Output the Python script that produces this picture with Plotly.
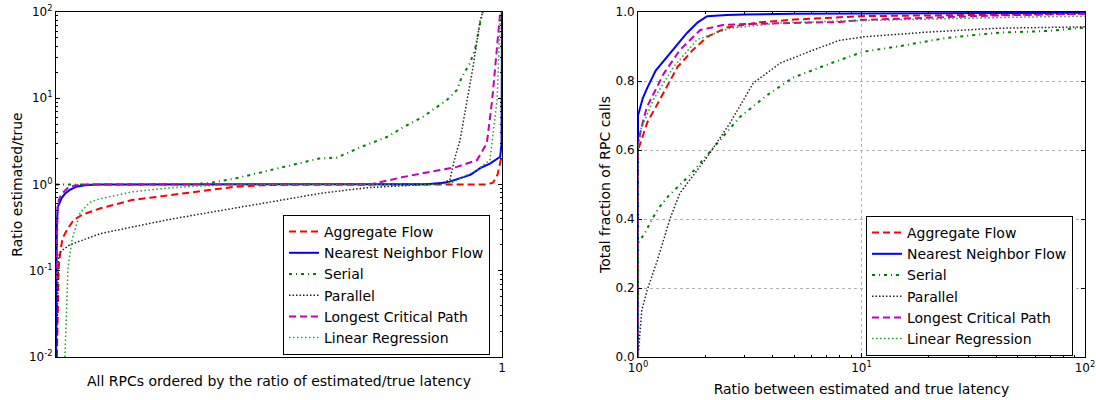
import plotly.graph_objects as go

# ---------------- Left panel: ratio estimated/true, RPCs ordered ----------------
agg_l_x = [0.002, 0.004, 0.006, 0.01, 0.015, 0.025, 0.04, 0.06, 0.1, 0.17, 0.25, 0.32, 0.4, 0.46, 0.55, 0.75, 0.9, 0.965, 0.98, 0.99, 0.996, 1.0]
agg_l_y = [0.01, 0.04, 0.11, 0.17, 0.24, 0.3, 0.39, 0.45, 0.53, 0.66, 0.75, 0.83, 0.94, 0.98, 1.0, 1.0, 1.0, 1.0, 1.05, 1.3, 1.8, 2.2]

nn_l_x = [0.0, 0.002, 0.004, 0.008, 0.013, 0.02, 0.03, 0.045, 0.065, 0.09, 0.3, 0.6, 0.8, 0.83, 0.87, 0.883, 0.93, 0.951, 0.973, 0.987, 0.996, 0.999, 1.0]
nn_l_y = [0.01, 0.35, 0.55, 0.62, 0.7, 0.78, 0.86, 0.94, 0.98, 1.0, 1.0, 1.0, 1.0, 1.01, 1.05, 1.08, 1.3, 1.55, 1.75, 1.95, 2.1, 3.0, 100]

ser_l_x = [0.0, 0.2, 0.3, 0.345, 0.41, 0.5, 0.56, 0.59, 0.63, 0.682, 0.742, 0.778, 0.823, 0.877, 0.899, 0.91, 0.928, 0.939, 0.951, 0.957]
ser_l_y = [1.0, 1.0, 1.0, 1.04, 1.2, 1.55, 1.85, 2.0, 2.05, 2.7, 3.55, 4.6, 6.1, 9.6, 12.5, 17.7, 25.5, 36, 74, 100]

par_l_x = [0.001, 0.003, 0.006, 0.012, 0.031, 0.1, 0.18, 0.25, 0.35, 0.5, 0.6, 0.7, 0.8, 0.86, 0.883, 0.895, 0.906, 0.922, 0.935, 0.951, 0.957]
par_l_y = [0.01, 0.05, 0.15, 0.17, 0.2, 0.27, 0.33, 0.39, 0.48, 0.66, 0.8, 0.92, 0.98, 1.02, 1.13, 2.1, 3.3, 9.6, 23, 80, 100]

lcp_l_x = [0.0, 0.002, 0.004, 0.008, 0.015, 0.025, 0.04, 0.06, 0.3, 0.704, 0.778, 0.839, 0.899, 0.944, 0.966, 0.978, 0.989, 0.996]
lcp_l_y = [0.08, 0.4, 0.6, 0.7, 0.8, 0.9, 0.97, 1.0, 1.0, 1.0, 1.22, 1.4, 1.6, 1.92, 3.0, 9.6, 37, 100]

lr_l_x = [0.02, 0.027, 0.036, 0.054, 0.076, 0.092, 0.17, 0.25, 0.32, 0.39, 0.6, 0.861, 0.89, 0.944, 0.973, 0.989, 0.996, 0.998]
lr_l_y = [0.01, 0.11, 0.23, 0.47, 0.62, 0.67, 0.82, 0.91, 0.96, 0.99, 1.0, 1.0, 1.07, 1.47, 1.92, 9.6, 88, 100]

# ---------------- Right panel: CDF of ratio ----------------
agg_r_x = [1, 1, 1.05, 1.1, 1.25, 1.5, 1.76, 2.04, 2.5, 3.5, 5, 10, 20, 50, 100]
agg_r_y = [0, 0.6, 0.64, 0.68, 0.745, 0.84, 0.89, 0.928, 0.955, 0.97, 0.978, 0.988, 0.99, 0.993, 0.995]

nn_r_x = [1, 1, 1.05, 1.1, 1.2, 1.35, 1.5, 1.66, 1.85, 2.04, 2.5, 3, 5, 10, 30, 100]
nn_r_y = [0, 0.7, 0.75, 0.78, 0.83, 0.87, 0.905, 0.94, 0.97, 0.988, 0.991, 0.993, 0.995, 0.996, 0.997, 0.998]

ser_r_x = [1, 1, 1.075, 1.155, 1.25, 1.36, 1.71, 2.04, 2.86, 3.8, 4.95, 7.4, 10.2, 14.5, 24, 41, 68, 100]
ser_r_y = [0, 0.33, 0.36, 0.40, 0.435, 0.465, 0.528, 0.585, 0.696, 0.76, 0.81, 0.853, 0.885, 0.90, 0.925, 0.94, 0.945, 0.955]

par_r_x = [1, 1.04, 1.1, 1.22, 1.39, 1.54, 2.04, 2.58, 3.28, 4.33, 6.1, 8.0, 10.2, 20, 41, 100]
par_r_y = [0, 0.136, 0.194, 0.28, 0.40, 0.475, 0.58, 0.678, 0.794, 0.852, 0.89, 0.918, 0.928, 0.942, 0.953, 0.957]

lcp_r_x = [1, 1, 1.05, 1.097, 1.3, 1.54, 1.9, 2.4, 3, 5, 8, 10, 20, 40, 100]
lcp_r_y = [0, 0.62, 0.68, 0.725, 0.82, 0.89, 0.948, 0.962, 0.965, 0.968, 0.971, 0.977, 0.984, 0.99, 0.995]

lr_r_x = [1, 1, 1.03, 1.17, 1.44, 1.84, 2.58, 4.3, 8.2, 20, 50, 100]
lr_r_y = [0, 0.6, 0.66, 0.745, 0.84, 0.92, 0.953, 0.968, 0.974, 0.98, 0.985, 0.988]

names = ["Aggregate Flow", "Nearest Neighbor Flow", "Serial", "Parallel",
         "Longest Critical Path", "Linear Regression"]

styles = [
    dict(color="#ff0000", width=2, dash="7px,4px"),
    dict(color="#0000ff", width=2, dash="solid"),
    dict(color="#008000", width=2, dash="3px,4px,1px,4px"),
    dict(color="#222222", width=1.5, dash="1.5px,2px"),
    dict(color="#bf00bf", width=2, dash="7px,4px"),
    dict(color="#22a022", width=1.5, dash="1.5px,2.5px"),
]

left_data = [(agg_l_x, agg_l_y), (nn_l_x, nn_l_y), (ser_l_x, ser_l_y),
             (par_l_x, par_l_y), (lcp_l_x, lcp_l_y), (lr_l_x, lr_l_y)]
right_data = [(agg_r_x, agg_r_y), (nn_r_x, nn_r_y), (ser_r_x, ser_r_y),
              (par_r_x, par_r_y), (lcp_r_x, lcp_r_y), (lr_r_x, lr_r_y)]

fig = go.Figure()
for name, st, (x, y) in zip(names, styles, left_data):
    fig.add_trace(go.Scatter(x=x, y=y, mode="lines", name=name, line=st,
                             xaxis="x", yaxis="y", legend="legend"))
for name, st, (x, y) in zip(names, styles, right_data):
    fig.add_trace(go.Scatter(x=x, y=y, mode="lines", name=name, line=st,
                             xaxis="x2", yaxis="y2", legend="legend2"))

FONT = "DejaVu Sans"
ytick_vals = [0.01, 0.1, 1, 10, 100]
ytick_text = ["10<sup>-2</sup>", "10<sup>-1</sup>", "10<sup>0</sup>", "10<sup>1</sup>", "10<sup>2</sup>"]
yminor = [k * 10 ** e for e in range(-2, 2) for k in range(2, 10)]
xminor = [k * 10 ** e for e in range(0, 2) for k in range(2, 10)]

# plot area (inside margins): x 56..1085, y 12..357
ML, MR, MT, MB = 56, 11, 12, 43
PW = 1096 - ML - MR
PH = 400 - MT - MB

def px(x):
    return (x - ML) / PW

def py(y):
    return (400 - MB - y) / PH

axis_common = dict(showline=True, linecolor="black", linewidth=1, mirror="ticks",
                   ticks="inside", ticklen=4, tickcolor="black", zeroline=False,
                   automargin=False,
                   tickfont=dict(family=FONT, size=12, color="black"))

legend_common = dict(bgcolor="white", bordercolor="black", borderwidth=1,
                     font=dict(family=FONT, size=14, color="black"),
                     xanchor="left", yanchor="top", itemwidth=30,
                     tracegroupgap=0)

TF = dict(family=FONT, size=14, color="black")

fig.update_layout(
    width=1096, height=400,
    margin=dict(l=ML, r=MR, t=MT, b=MB, autoexpand=False),
    plot_bgcolor="white", paper_bgcolor="white",
    font=dict(family=FONT, size=14, color="black"),
    xaxis=dict(domain=[0, px(502)], anchor="y", range=[0, 1],
               tickvals=[1], ticktext=["1"], showgrid=False,
               title=dict(text="All RPCs ordered by the ratio of estimated/true latency",
                          font=TF, standoff=1),
               **axis_common),
    yaxis=dict(domain=[0, 1], anchor="x", type="log", range=[-2, 2],
               tickvals=ytick_vals, ticktext=ytick_text, showgrid=False,
               minor=dict(tickvals=yminor, ticks="inside", ticklen=2, tickcolor="black", showgrid=False),
               title=dict(text="Ratio estimated/true", font=TF, standoff=3),
               **axis_common),
    xaxis2=dict(domain=[px(638), 1], anchor="y2", type="log", range=[0, 2],
                tickvals=[1, 10, 100], ticktext=["10<sup>0</sup>", "10<sup>1</sup>", "10<sup>2</sup>"],
                showgrid=True, gridcolor="#b0b0b0", griddash="dot", gridwidth=1,
                minor=dict(tickvals=xminor, ticks="inside", ticklen=2, tickcolor="black", showgrid=False),
                title=dict(text="Ratio between estimated and true latency", font=TF, standoff=9),
                **axis_common),
    yaxis2=dict(domain=[0, 1], anchor="x2", range=[0, 1],
                tickvals=[0, 0.2, 0.4, 0.6, 0.8, 1.0], ticktext=["0.0", "0.2", "0.4", "0.6", "0.8", "1.0"],
                showgrid=True, gridcolor="#b0b0b0", griddash="dot", gridwidth=1,
                title=dict(text="Total fraction of RPC calls", font=TF, standoff=1),
                **axis_common),
    legend=dict(x=px(283), y=py(215), **legend_common),
    legend2=dict(x=px(866), y=py(216), **legend_common),
)

fig.write_html("out.html",
               config={"displayModeBar": False},
               post_script="document.body.style.margin='0';document.body.style.padding='0';")
